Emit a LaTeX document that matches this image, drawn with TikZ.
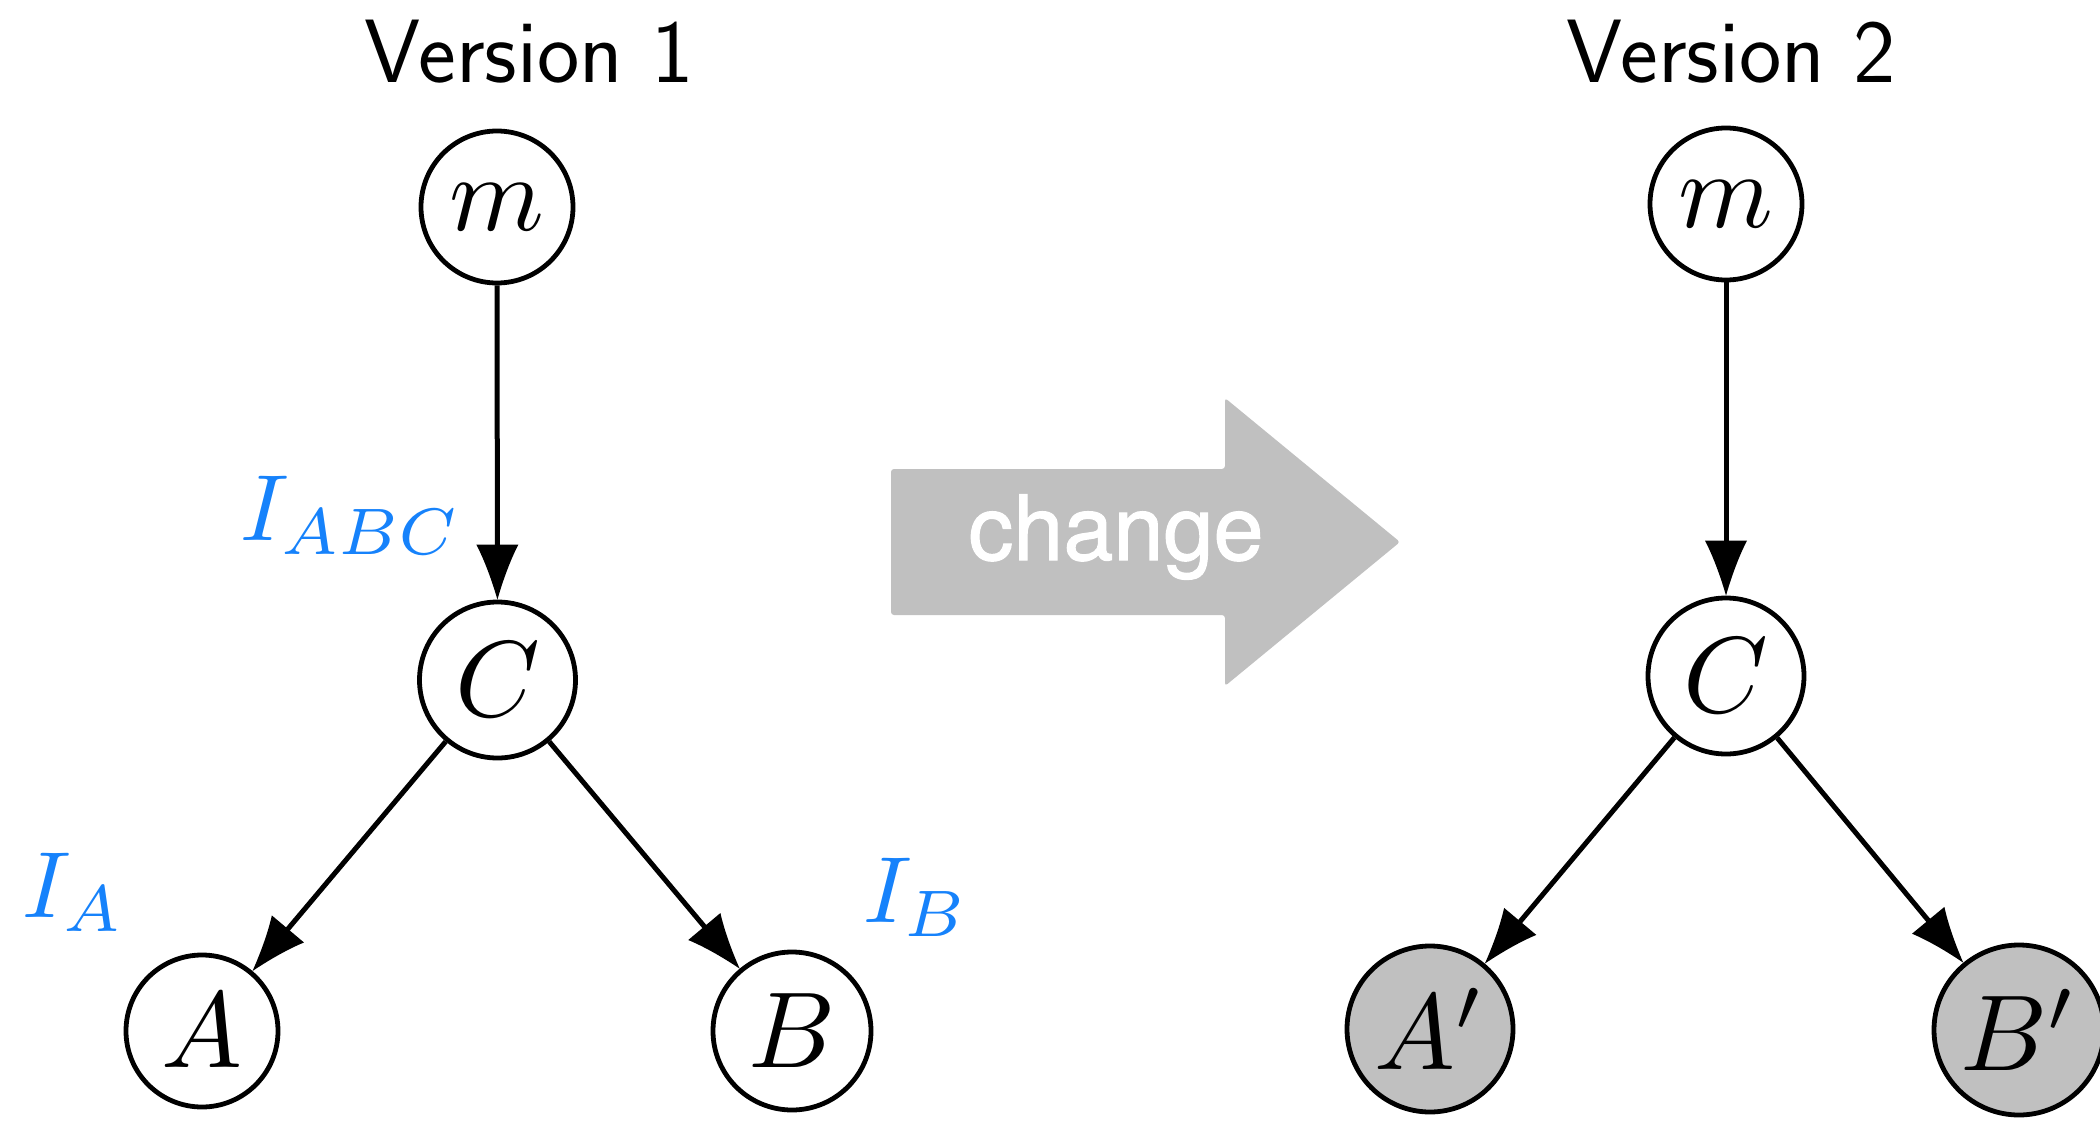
\documentclass[tikz,border=0pt]{standalone}
\usepackage{fontspec}
\newfontfamily\heros[FakeBold=1.2]{TeX Gyre Heros}
\usetikzlibrary{arrows.meta}
\definecolor{labelblue}{RGB}{22,130,251}
\definecolor{arrowgray}{RGB}{192,192,192}
\definecolor{nodegray}{RGB}{192,192,192}
\pgfdeclarearrow{
  name = Spike,
  parameters = {\the\pgfarrowlength,\the\pgfarrowwidth},
  setup code = {
    \pgfarrowssettipend{0pt}
    \pgfarrowssetbackend{-\pgfarrowlength}
    \pgfarrowssetlineend{-0.5\pgfarrowlength}
    \pgfarrowssavethe\pgfarrowlength
    \pgfarrowssavethe\pgfarrowwidth
  },
  drawing code = {
    \pgfpathmoveto{\pgfqpoint{0pt}{0pt}}
    \pgfpathcurveto{\pgfqpoint{-0.4\pgfarrowlength}{0.15\pgfarrowwidth}}{\pgfqpoint{-0.75\pgfarrowlength}{0.33\pgfarrowwidth}}{\pgfqpoint{-\pgfarrowlength}{0.5\pgfarrowwidth}}
    \pgfpathlineto{\pgfqpoint{-\pgfarrowlength}{-0.5\pgfarrowwidth}}
    \pgfpathcurveto{\pgfqpoint{-0.75\pgfarrowlength}{-0.33\pgfarrowwidth}}{\pgfqpoint{-0.4\pgfarrowlength}{-0.15\pgfarrowwidth}}{\pgfqpoint{0pt}{0pt}}
    \pgfpathclose
    \pgfusepathqfill
  },
  defaults = {length=27pt, width=20pt}
}
\newcommand{\nodetext}[1]{\scalebox{5.4}{$#1$}}
\newcommand{\labtext}[1]{\scalebox{4.7}{$#1$}}
\tikzset{
  var/.style={draw, circle, line width=2.4pt, inner sep=0pt},
  obs/.style={var, fill=nodegray},
  edge/.style={line width=2.5pt, -{Spike[length=27.5pt,width=21pt]}},
  lab/.style={text=labelblue, anchor=base west, inner sep=0pt},
  title/.style={anchor=base, inner sep=0pt, font=\sffamily\fontsize{45}{50}\selectfont}
}
\begin{document}
\begin{tikzpicture}[x=0.5pt,y=-0.5pt]
\useasboundingbox (0,0) rectangle (2100,1124);
% Version 1
\node[title] (t1) at (529,82) {Version 1};
\node[var, minimum size=76pt] (m1) at (497,207) {\nodetext{m}};
\node[var, minimum size=78pt] (c1) at (497.5,680) {\nodetext{C}};
\node[var, minimum size=76pt] (a1) at (202,1031) {\nodetext{A}};
\node[var, minimum size=79pt] (b1) at (792,1031) {\nodetext{B}};
\draw[edge] (m1) -- (c1);
\draw[edge] (c1) -- (a1);
\draw[edge] (c1) -- (b1);
\node[lab] (iabc) at (240,540) {\labtext{I_{ABC}}};
\node[lab] (ia) at (22,917) {\labtext{I_{A}}};
\node[lab] (ib) at (863,922) {\labtext{I_{B}}};
% change arrow
\fill[arrowgray, rounded corners=1.5pt] (891,469) -- (1225,469) -- (1225,398) -- (1400,542) -- (1225,686) -- (1225,615) -- (891,615) -- cycle;
\node[anchor=base, inner sep=0pt, text=white, font=\heros\fontsize{45}{50}\selectfont] (chg) at (1116,560) {change};
% Version 2
\node[title] (t2) at (1731,82) {Version 2};
\node[var, minimum size=76pt] (m2) at (1726,204) {\nodetext{m}};
\node[var, minimum size=78pt] (c2) at (1726,676) {\nodetext{C}};
\node[obs, minimum size=83pt] (a2) at (1430,1029) {\nodetext{A'}};
\node[obs, minimum size=85pt] (b2) at (2019,1030) {\nodetext{B'}};
\draw[edge] (m2) -- (c2);
\draw[edge] (c2) -- (a2);
\draw[edge] (c2) -- (b2);
\end{tikzpicture}
\end{document}
